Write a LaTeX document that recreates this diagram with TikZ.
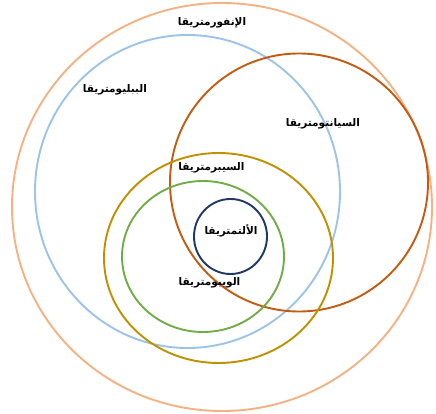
\documentclass[tikz,border=0pt]{standalone}
\usepackage{fontspec}
\newfontfamily\arabicfont[Script=Arabic,BoldFont={DejaVu Sans Bold}]{DejaVu Sans}
\TeXXeTstate=1
\tikzset{
  ring/.style={line width=1.9pt},
  lbl/.style={font=\arabicfont\bfseries\fontsize{10.5}{12}\selectfont, inner sep=1pt}
}
\definecolor{cInfo}{HTML}{F4B183}
\definecolor{cBib}{HTML}{9DC3E6}
\definecolor{cSci}{HTML}{C55A11}
\definecolor{cCyb}{HTML}{BF9000}
\definecolor{cWeb}{HTML}{70AD47}
\definecolor{cAlt}{HTML}{1F3864}
\begin{document}
\begin{tikzpicture}[x=1pt,y=-1pt]
\useasboundingbox (0,0) rectangle (436,414);
\draw[ring, cInfo] (222,207) ellipse [x radius=210, y radius=204];
\draw[ring, cBib] (187.5,191.5) ellipse [x radius=152.5, y radius=156.5];
\draw[ring, cSci] (299,182.5) circle [radius=129];
\draw[ring, cCyb] (218.5,258) ellipse [x radius=114.5, y radius=105];
\draw[ring, cWeb] (203,256.5) ellipse [x radius=81, y radius=75.5];
\draw[ring, cAlt] (230.5,236.5) ellipse [x radius=36.5, y radius=37.5];
\node[lbl] (info) at (212,23) {\beginR الإنفورمتريقا\endR};
\node[lbl] (bib) at (115,90) {\beginR الببليومتريقا\endR};
\node[lbl] (sci) at (323,124) {\beginR السيانتومتريقا\endR};
\node[lbl] (cyb) at (211.5,168) {\beginR السيبرمتريقا\endR};
\node[lbl] (alt) at (231,231) {\beginR الألتمتريقا\endR};
\node[lbl] (web) at (209.5,283) {\beginR الويبومتريقا\endR};
\end{tikzpicture}
\end{document}
